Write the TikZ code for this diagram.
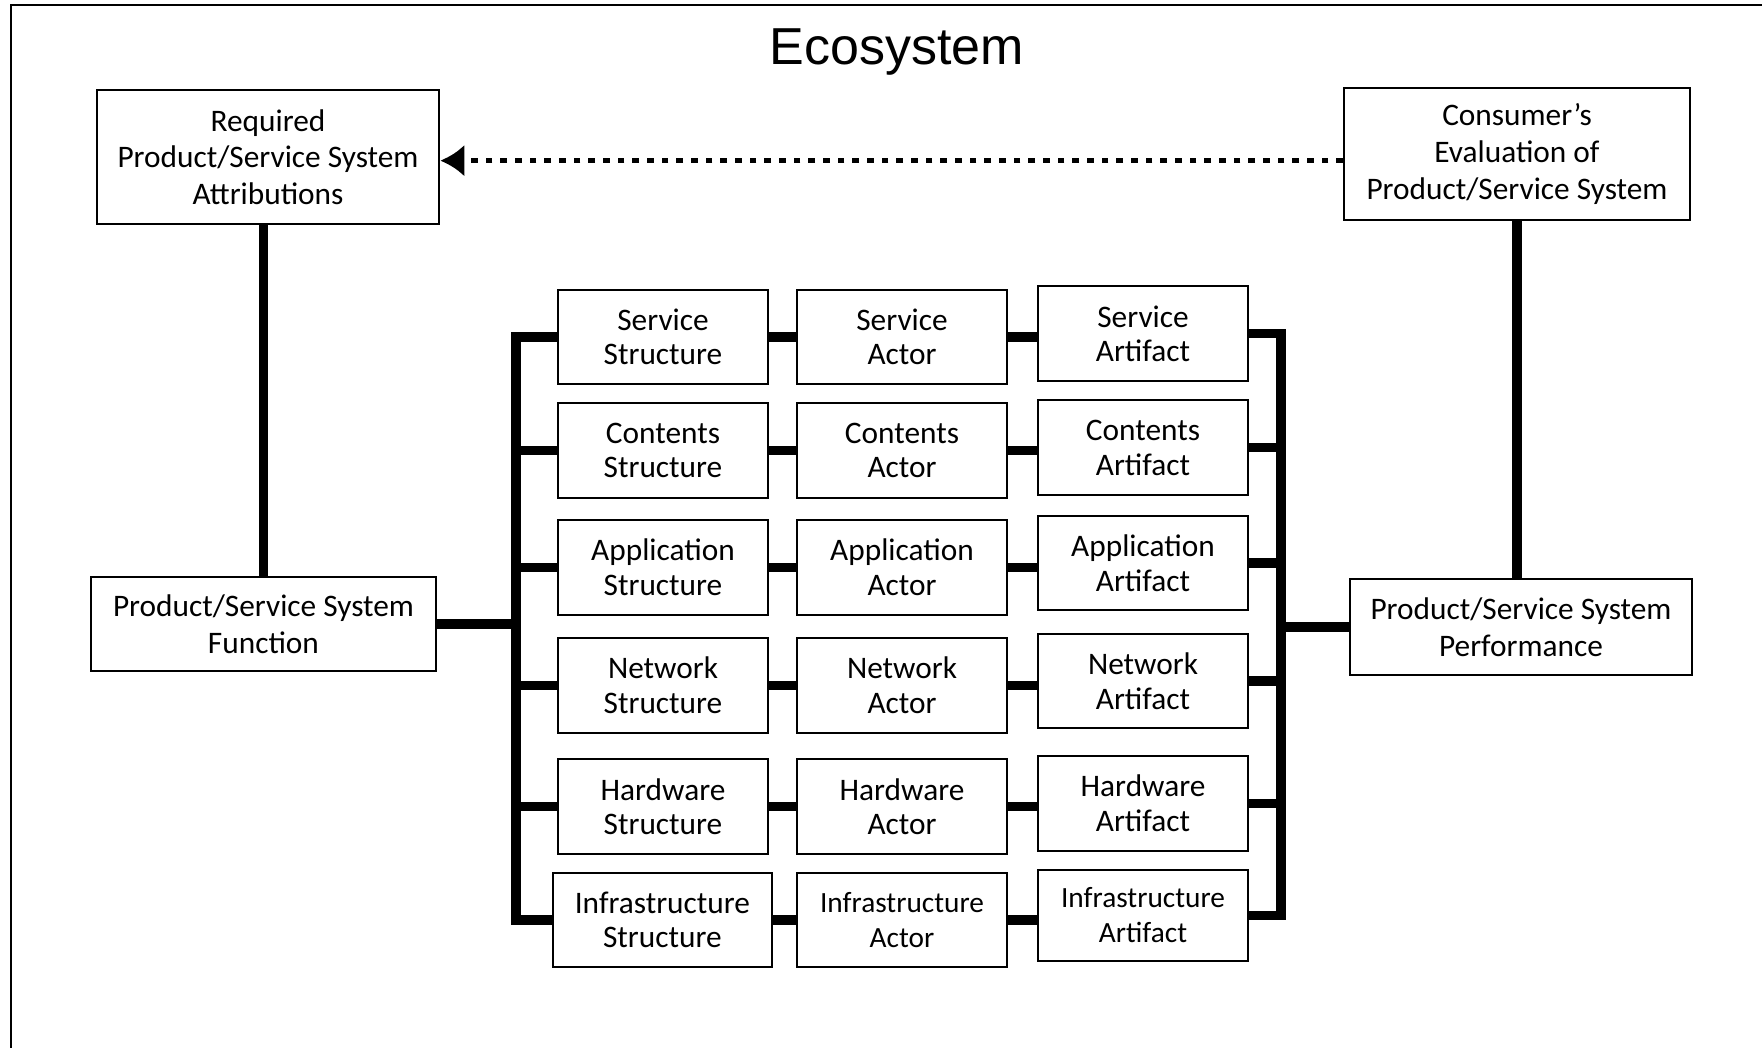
\documentclass[tikz,border=0pt]{standalone}
\usepackage{fontspec}
\setmainfont{Carlito}
\newfontfamily\titlefont{Liberation Sans}
\usetikzlibrary{arrows.meta}

\begin{document}
\begin{tikzpicture}[x=0.75pt,y=0.75pt,yscale=-1,xscale=1,
  box/.style={draw,line width=1.5pt,align=center,inner sep=0pt,font=\fontsize{23.5}{26}\selectfont},
  cell/.style={box,minimum width=158pt,minimum height=71pt},
  big/.style={box,minimum width=257pt,font=\fontsize{23.5}{27.5}\selectfont},
  link/.style={line width=7pt},
  feedback/.style={line width=4.2pt,dash pattern=on 5pt off 6pt,-{Latex[length=18pt,width=24pt]}}]
\useasboundingbox (0,0) rectangle (1762,1048);

%Frame
\draw [line width=2pt] (11,1048) -- (11,5) -- (1762,5) ;

% Title
\node (title) [anchor=base] at (897,65) {\titlefont\fontsize{39}{45}\selectfont Ecosystem};

% Outer boxes
\node [big,minimum height=100pt] (req) at (268,157) {Required\\Product/Service System\\Attributions};
\node [big,minimum width=259.5pt,minimum height=99pt] (eval) at (1517,154) {Consumer’s\\Evaluation of\\Product/Service System};
\node [big,minimum width=259pt,minimum height=70.5pt] (func) at (263.5,624) {Product/Service System\\Function};
\node [big,minimum height=72.5pt] (perf) at (1521,627) {Product/Service System\\Performance};

% Structure column
\node [cell] (sstruct) at (663,337) {Service\\Structure};
\node [cell] (cstruct) at (663,450.6) {Contents\\Structure};
\node [cell] (astruct) at (663,567.4) {Application\\Structure};
\node [cell] (nstruct) at (663,685.4) {Network\\Structure};
\node [cell] (hstruct) at (663,806.7) {Hardware\\Structure};
\node [cell,minimum width=164pt] (istruct) at (662.4,920) {Infrastructure\\Structure};

% Actor column
\node [cell] (sactor) at (902,337) {Service\\Actor};
\node [cell] (cactor) at (902,450.6) {Contents\\Actor};
\node [cell] (aactor) at (902,567.4) {Application\\Actor};
\node [cell] (nactor) at (902,685.4) {Network\\Actor};
\node [cell] (hactor) at (902,806.7) {Hardware\\Actor};
\node [cell,font=\fontsize{22}{26}\selectfont] (iactor) at (902,920) {Infrastructure\\Actor};

% Artifact column
\node [cell] (sartif) at (1143,333.7) {Service\\Artifact};
\node [cell] (cartif) at (1143,447.8) {Contents\\Artifact};
\node [cell] (aartif) at (1143,563) {Application\\Artifact};
\node [cell] (nartif) at (1143,681) {Network\\Artifact};
\node [cell] (hartif) at (1143,803.4) {Hardware\\Artifact};
\node [cell,minimum height=68pt,font=\fontsize{22}{26}\selectfont] (iartif) at (1143,915.3) {Infrastructure\\Artifact};

\coordinate (lbus) at (516,0);
\coordinate (rbus) at (1281,0);

% Left bus
\draw [link] (sstruct.west) -- (sstruct.west -| lbus) -- (istruct.west -| lbus) -- (istruct.west) ;
\draw [link] (cstruct.west) -- (cstruct.west -| lbus) ;
\draw [link] (astruct.west) -- (astruct.west -| lbus) ;
\draw [link] (nstruct.west) -- (nstruct.west -| lbus) ;
\draw [link] (hstruct.west) -- (hstruct.west -| lbus) ;
\draw [link] (func.east) -- (func.east -| lbus) ;

% Rows
\draw [link] (sstruct.east) -- (sactor.west) ;
\draw [link] (cstruct.east) -- (cactor.west) ;
\draw [link] (astruct.east) -- (aactor.west) ;
\draw [link] (nstruct.east) -- (nactor.west) ;
\draw [link] (hstruct.east) -- (hactor.west) ;
\draw [link] (istruct.east) -- (iactor.west) ;
\draw [link] (sactor.east) -- (sactor.east -| sartif.west) ;
\draw [link] (cactor.east) -- (cactor.east -| cartif.west) ;
\draw [link] (aactor.east) -- (aactor.east -| aartif.west) ;
\draw [link] (nactor.east) -- (nactor.east -| nartif.west) ;
\draw [link] (hactor.east) -- (hactor.east -| hartif.west) ;
\draw [link] (iactor.east) -- (iactor.east -| iartif.west) ;

% Right bus
\draw [link] (sartif.east) -- (sartif.east -| rbus) -- (iartif.east -| rbus) -- (iartif.east) ;
\draw [link] (cartif.east) -- (cartif.east -| rbus) ;
\draw [link] (aartif.east) -- (aartif.east -| rbus) ;
\draw [link] (nartif.east) -- (nartif.east -| rbus) ;
\draw [link] (hartif.east) -- (hartif.east -| rbus) ;
\draw [link] (perf.west) -- (perf.west -| rbus) ;

% Verticals
\draw [link] (func.north |- req.south) -- (func.north) ;
\draw [link] (eval.south) -- (eval.south |- perf.north) ;

% Feedback arrow
\draw [feedback] ([yshift=5pt]eval.west) -- ([yshift=5pt]eval.west -| req.east) ;

\end{tikzpicture}
\end{document}
